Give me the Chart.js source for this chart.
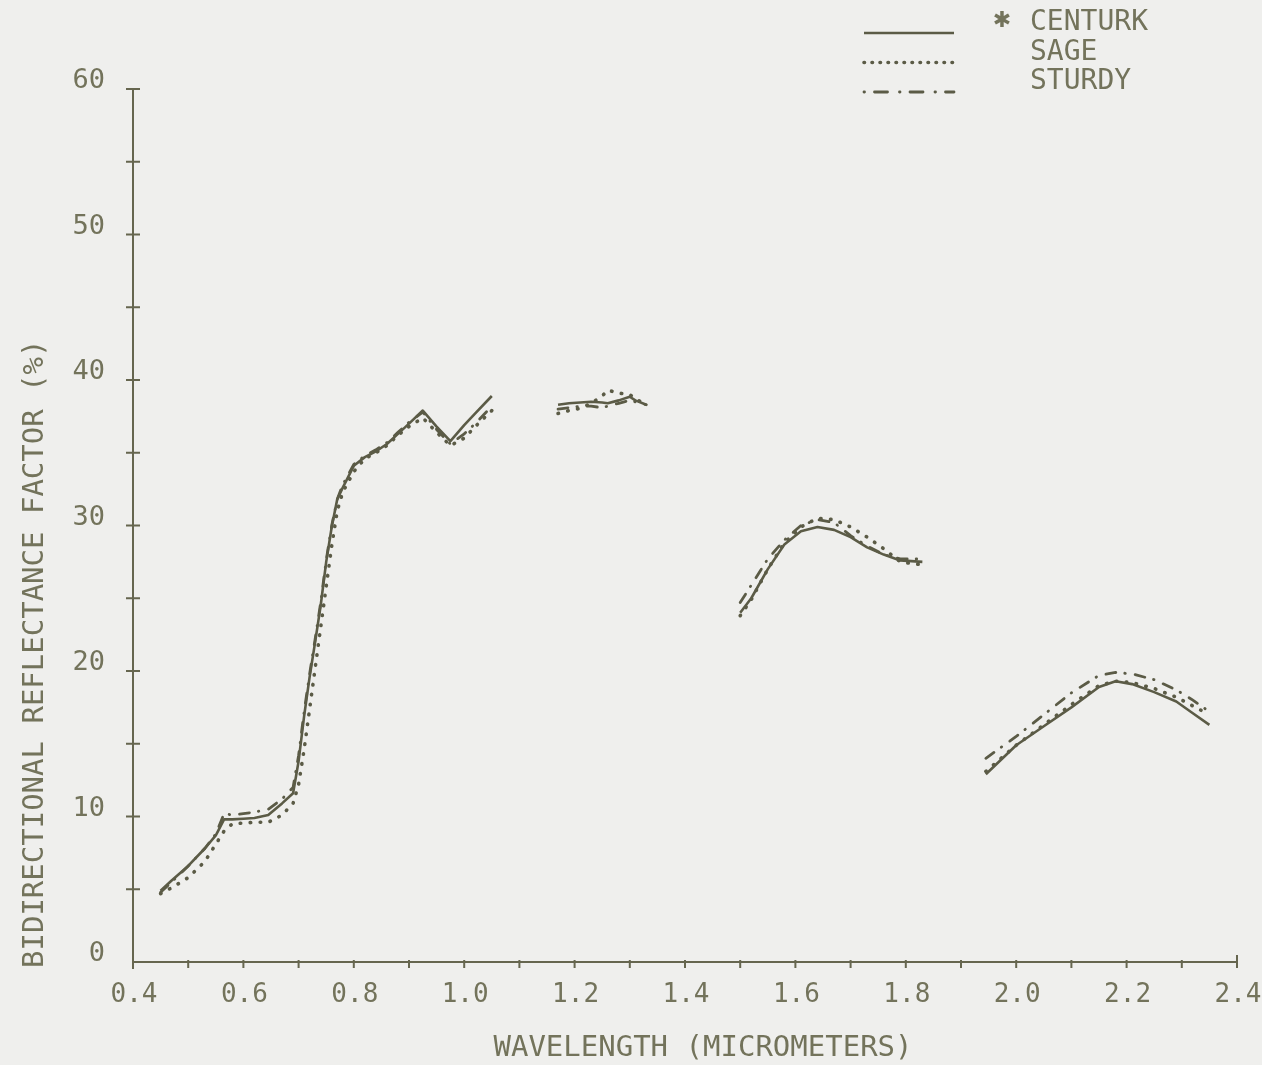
<!DOCTYPE html>
<html>
<head>
<meta charset="utf-8">
<title>Bidirectional reflectance factor</title>
<script src="https://cdn.jsdelivr.net/npm/chart.js@4.4.1/dist/chart.umd.min.js"></script>
<style>
  html, body { margin: 0; padding: 0; background: #efefed; }
  #wrap { width: 1262px; height: 1065px; }
</style>
</head>
<body>
<div id="wrap"><canvas id="spectra" width="1262" height="1065"></canvas></div>
<script>
// wavelengths in micrometres; 1.10, 1.40 and 1.90 sit in the water bands and carry no reading
const wavelength = [
  0.45, 0.47, 0.50, 0.53, 0.55, 0.565, 0.58, 0.60, 0.62, 0.645, 0.67, 0.69, 0.70, 0.71, 0.72, 0.73, 0.74,
  0.75, 0.76, 0.77, 0.78, 0.80, 0.82, 0.84, 0.86, 0.88, 0.90, 0.925, 0.95, 0.975, 1.00, 1.02, 1.05,
  1.10,
  1.17, 1.19, 1.21, 1.23, 1.25, 1.26, 1.28, 1.30, 1.31, 1.33,
  1.40,
  1.50, 1.52, 1.55, 1.58, 1.61, 1.64, 1.67, 1.70, 1.73, 1.76, 1.79, 1.83,
  1.90,
  1.945, 2.00, 2.05, 2.10, 2.15, 2.18, 2.21, 2.25, 2.29, 2.32, 2.35
];

const centurk = [
  4.9, 5.6, 6.6, 7.8, 8.7, 9.8, 9.8, 9.85, 9.9, 10.1, 10.9, 11.6, 13.8, 16.9, 19.6, 22.0, 24.5,
  27.5, 29.9, 31.8, 32.6, 34.1, 34.7, 35.1, 35.6, 36.3, 37.0, 37.9, 36.8, 35.8, 36.9, 37.7, 38.9,
  null,
  38.3, 38.4, 38.45, 38.5, 38.45, 38.4, 38.6, 38.85, 38.6, 38.3,
  null,
  24.0, 25.0, 27.0, 28.7, 29.6, 29.9, 29.7, 29.2, 28.5, 28.0, 27.6, 27.5,
  null,
  12.9, 14.9, 16.2, 17.5, 18.9, 19.3, 19.1, 18.55, 17.9, 17.1, 16.3
];

const sage = [
  4.7, 5.1, 5.8, 6.9, 8.1, 9.0, 9.5, 9.55, 9.6, 9.6, 10.1, 10.9, 12.2, 14.6, 17.4, 20.2, 23.0,
  25.8, 28.6, 31.0, 32.3, 33.7, 34.6, 35.0, 35.5, 36.2, 36.8, 37.4, 36.4, 35.5, 36.0, 36.8, 37.9,
  null,
  37.7, 37.9, 38.05, 38.4, 38.9, 39.3, 39.1, 39.0, 38.7, 38.3,
  null,
  23.8, 24.9, 27.0, 28.8, 29.9, 30.5, 30.4, 29.9, 29.2, 28.4, 27.5, 27.3,
  null,
  13.1, 14.9, 16.3, 17.7, 19.0, 19.3, 19.2, 18.8, 18.2, 17.6, 17.0
];

const sturdy = [
  4.8, 5.5, 6.6, 7.8, 8.8, 10.2, 10.1, 10.2, 10.3, 10.5, 11.2, 12.0, 14.2, 17.2, 19.8, 22.2, 24.7,
  27.6, 30.0, 31.8, 32.8, 34.2, 34.8, 35.2, 35.7, 36.4, 37.1, 37.8, 36.6, 35.6, 36.3, 37.0, 38.2,
  null,
  38.0, 38.1, 38.2, 38.2, 38.1, 38.2, 38.4, 38.6, 38.5, 38.3,
  null,
  24.7, 25.9, 27.7, 29.0, 30.0, 30.4, 30.2, 29.3, 28.6, 28.0, 27.7, 27.7,
  null,
  14.0, 15.5, 17.0, 18.5, 19.7, 19.9, 19.8, 19.4, 18.7, 18.0, 17.2
];

const xTickValues = [0.4, 0.6, 0.8, 1.0, 1.2, 1.4, 1.6, 1.8, 2.0, 2.2, 2.4];
const yTickValues = [0, 10, 20, 30, 40, 50, 60];

const INK = '#5b5b46';
const AXIS = '#66664f';
const TEXT = '#73735b';
const FONT = "'DejaVu Sans Mono', monospace";

const pts = vals => wavelength.map((w, i) => ({ x: w, y: vals[i] }));

// tick crosses on both axes, the stub below the origin and the small minor ticks
const axisMarks = {
  id: 'axisMarks',
  afterDraw(chart) {
    const { ctx, scales: { x, y } } = chart;
    const x0 = x.getPixelForValue(0.4);
    const y0 = y.getPixelForValue(0);
    ctx.save();
    ctx.strokeStyle = AXIS;
    ctx.lineWidth = 2;
    ctx.beginPath();
    for (let v = 5; v <= 60; v += 5) {
      const py = y.getPixelForValue(v);
      ctx.moveTo(x0 - 7, py);
      ctx.lineTo(x0 + 7, py);
    }
    for (let i = 1; i <= 20; i++) {
      const px = x.getPixelForValue(0.4 + i * 0.1);
      ctx.moveTo(px, y0 - (i === 20 ? 7 : 2));
      ctx.lineTo(px, y0 + 6);
    }
    ctx.moveTo(x0, y0);
    ctx.lineTo(x0, y0 + 7);
    ctx.stroke();
    ctx.restore();
  }
};

// axis titles and the line key in the top right corner
const annotations = {
  id: 'annotations',
  afterDraw(chart) {
    const { ctx } = chart;
    ctx.save();
    ctx.fillStyle = TEXT;
    ctx.font = '29px ' + FONT;
    ctx.textBaseline = 'middle';

    ctx.textAlign = 'center';
    ctx.fillText('WAVELENGTH (MICROMETERS)', 703, 1048);

    ctx.save();
    ctx.translate(35, 968);
    ctx.rotate(-Math.PI / 2);
    ctx.textAlign = 'left';
    ctx.fillText('BIDIRECTIONAL REFLECTANCE FACTOR (%)', 0, 0);
    ctx.restore();

    ctx.font = '28px ' + FONT;
    ctx.textAlign = 'left';
    chart.data.datasets.forEach((ds, i) => {
      const ly = 33 + i * 29.5;
      ctx.save();
      ctx.strokeStyle = ds.borderColor;
      ctx.lineWidth = ds.borderWidth;
      ctx.lineCap = ds.borderCapStyle || 'butt';
      ctx.setLineDash(ds.keyDash || []);
      ctx.beginPath();
      ctx.moveTo(864, ly);
      ctx.lineTo(954, ly);
      ctx.stroke();
      ctx.restore();
      ctx.fillText(ds.label, 1030, ly - 10);
    });
    ctx.font = 'bold 22px ' + "'DejaVu Sans', sans-serif";
    ctx.textAlign = 'center';
    ctx.fillText('\u2731', 1002, 21);
    ctx.restore();
  }
};

new Chart(document.getElementById('spectra'), {
  type: 'line',
  data: {
    datasets: [
      {
        label: 'CENTURK',
        data: pts(centurk),
        borderColor: INK,
        borderWidth: 2.6,
        borderJoinStyle: 'round'
      },
      {
        label: 'SAGE',
        data: pts(sage),
        borderColor: INK,
        borderWidth: 3.6,
        borderCapStyle: 'round',
        borderDash: [0.5, 9.5],
        keyDash: [0.5, 7.5]
      },
      {
        label: 'STURDY',
        data: pts(sturdy),
        borderColor: INK,
        borderWidth: 2.8,
        borderCapStyle: 'round',
        borderDash: [10, 9, 0.5, 10],
        keyDash: [0.5, 10, 13, 12]
      }
    ]
  },
  options: {
    responsive: false,
    animation: false,
    devicePixelRatio: 1,
    spanGaps: false,
    elements: { point: { radius: 0 }, line: { tension: 0 } },
    layout: { padding: { top: 89, right: 25, left: 0, bottom: 0 } },
    plugins: { legend: { display: false }, tooltip: { enabled: false } },
    scales: {
      x: {
        type: 'linear',
        min: 0.4, max: 2.4,
        afterFit: s => { s.height = 103; s.paddingLeft = 0; s.paddingRight = 0; },
        afterBuildTicks: s => { s.ticks = xTickValues.map(v => ({ value: v })); },
        grid: { drawOnChartArea: false, drawTicks: false },
        border: { color: AXIS, width: 2 },
        ticks: {
          color: TEXT, padding: 18, labelOffset: 1, maxRotation: 0,
          font: { family: FONT, size: 26 },
          callback: v => v.toFixed(1)
        }
      },
      y: {
        type: 'linear',
        min: 0, max: 60,
        afterFit: s => { s.width = 133; s.paddingTop = 0; s.paddingBottom = 0; },
        afterBuildTicks: s => { s.ticks = yTickValues.map(v => ({ value: v })); },
        grid: { drawOnChartArea: false, drawTicks: false },
        border: { color: AXIS, width: 2 },
        ticks: {
          color: TEXT, padding: 28, labelOffset: -8,
          font: { family: FONT, size: 27 },
          callback: v => String(v)
        }
      }
    }
  },
  plugins: [axisMarks, annotations]
});
</script>
</body>
</html>
